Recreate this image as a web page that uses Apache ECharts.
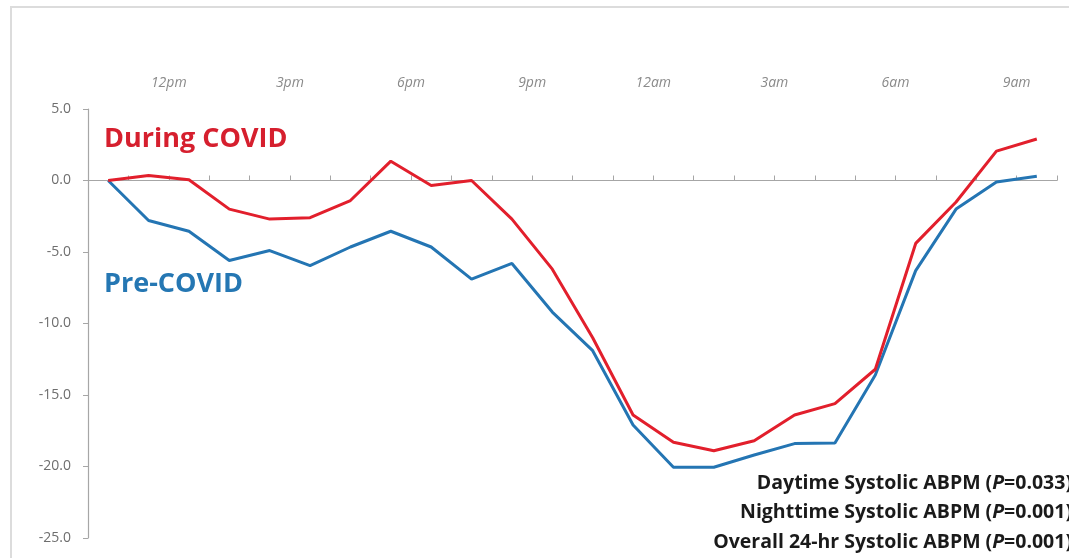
<!DOCTYPE html>
<html>
<head>
<meta charset="utf-8">
<script src="https://cdn.jsdelivr.net/npm/echarts@6/dist/echarts.min.js"></script>
<style>
  html, body { margin: 0; padding: 0; background: #ffffff; overflow: hidden; }
  #chart { width: 1069px; height: 558px; }
</style>
</head>
<body>
<div id="chart"></div>
<script>
// Hourly change in systolic ambulatory BP (mmHg), 24 readings
const hours = ['H1','H2','H3','H4','H5','H6','H7','H8','H9','H10','H11','H12',
               'H13','H14','H15','H16','H17','H18','H19','H20','H21','H22','H23','H24'];

const duringCovid = [0.0, 0.35, 0.05, -2.0, -2.7, -2.6, -1.4, 1.35, -0.35, 0.0, -2.7, -6.2,
                     -11.0, -16.4, -18.3, -18.9, -18.2, -16.4, -15.6, -13.2, -4.4, -1.5, 2.05, 2.9];

const preCovid = [0.0, -2.8, -3.55, -5.6, -4.9, -5.95, -4.65, -3.55, -4.65, -6.9, -5.8, -9.2,
                  -11.9, -17.1, -20.05, -20.05, -19.2, -18.4, -18.35, -13.6, -6.3, -2.0, -0.1, 0.3];

// Clock labels sit on the hour boundaries (25 boundaries for 24 hours)
const clockLabels = ['', '', '12pm', '', '', '3pm', '', '', '6pm', '', '', '9pm', '',
                     '', '12am', '', '', '3am', '', '', '6am', '', '', '9am', ''];

const yTicks = { min: -25, max: 5, step: 5 };

const pValues = [
  ['Daytime Systolic ABPM (', '0.033'],
  ['Nighttime Systolic ABPM (', '0.001'],
  ['Overall 24-hr Systolic ABPM (', '0.001']
];

const RED = '#e21f2c';
const BLUE = '#2475b3';
const FONT = '"Open Sans", Lato, sans-serif';

const chart = echarts.init(document.getElementById('chart'), null, { renderer: 'canvas' });

const noteLines = pValues.map(function (p, i) {
  return {
    type: 'text',
    right: -3,
    top: 473 + i * 29.5,
    style: {
      text: '{n|' + p[0] + '}{i|P}{n|=' + p[1] + ')}',
      align: 'right',
      rich: {
        n: { fontFamily: FONT, fontSize: 19.5, fontWeight: 'bold', fill: '#1a1a1a' },
        i: { fontFamily: FONT, fontSize: 19.5, fontWeight: 'bold', fontStyle: 'italic', fill: '#1a1a1a' }
      }
    }
  };
});

chart.setOption({
  animation: false,
  backgroundColor: '#ffffff',
  grid: { left: 88, right: 12, top: 109, bottom: 20, containLabel: false },
  xAxis: [
    {
      type: 'category',
      data: hours,
      boundaryGap: true,
      axisLine: { onZero: true, lineStyle: { color: '#a6a6a6', width: 1.2 } },
      axisTick: { show: true, inside: true, length: 5, interval: 0, lineStyle: { color: '#a6a6a6' } },
      axisLabel: { show: false },
      splitLine: { show: false }
    },
    {
      type: 'category',
      position: 'top',
      data: clockLabels,
      boundaryGap: false,
      axisLine: { show: false },
      axisTick: { show: false },
      axisLabel: {
        interval: 0,
        margin: 19,
        color: '#8a8a8a',
        fontFamily: FONT,
        fontStyle: 'italic',
        fontSize: 14
      },
      splitLine: { show: false }
    }
  ],
  yAxis: {
    type: 'value',
    min: yTicks.min,
    max: yTicks.max,
    interval: yTicks.step,
    axisLine: { show: true, lineStyle: { color: '#a6a6a6', width: 1.2 } },
    axisTick: { show: true, length: 5, lineStyle: { color: '#a6a6a6' } },
    axisLabel: {
      margin: 17,
      color: '#6e6e6e',
      fontFamily: FONT,
      fontSize: 14,
      formatter: function (v) { return v.toFixed(1); }
    },
    splitLine: { show: false }
  },
  series: [
    {
      name: 'Pre-COVID',
      type: 'line',
      xAxisIndex: 0,
      data: preCovid,
      symbol: 'none',
      smooth: false,
      lineStyle: { color: BLUE, width: 3 }
    },
    {
      name: 'During COVID',
      type: 'line',
      xAxisIndex: 0,
      data: duringCovid,
      symbol: 'none',
      smooth: false,
      lineStyle: { color: RED, width: 3 }
    }
  ],
  graphic: [
    {
      type: 'polyline',
      shape: { points: [[11, 600], [11, 7], [1100, 7]] },
      style: { fill: null, stroke: '#dcdcdc', lineWidth: 2 },
      silent: true,
      z: -1
    },
    {
      type: 'text',
      left: 104,
      top: 126,
      style: { text: 'During COVID', fill: '#d61f2e', fontFamily: FONT, fontWeight: 'bold', fontSize: 27 }
    },
    {
      type: 'text',
      left: 104,
      top: 271,
      style: { text: 'Pre-COVID', fill: '#2577b3', fontFamily: FONT, fontWeight: 'bold', fontSize: 27 }
    }
  ].concat(noteLines)
});
</script>
</body>
</html>
